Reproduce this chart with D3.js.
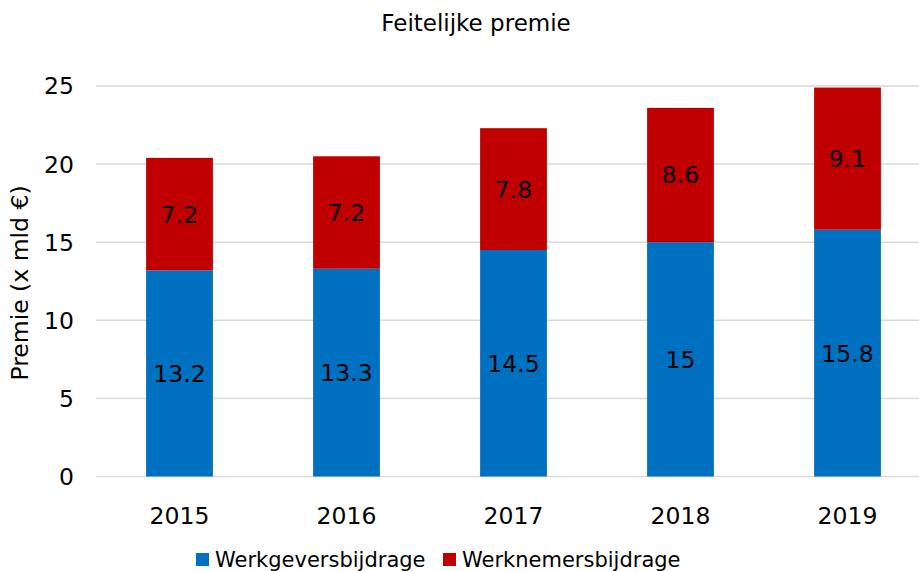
<!DOCTYPE html>
<html><head><meta charset="utf-8">
<script src="https://cdn.jsdelivr.net/npm/d3@7"></script>
<style>body{margin:0;background:#fff}svg{display:block;font-family:"DejaVu Sans",Verdana,sans-serif}</style>
</head><body><svg id="c" width="919" height="571"></svg>
<script>
const years = ["2015","2016","2017","2018","2019"];
const werkgever = [13.2,13.3,14.5,15,15.8];
const werknemer = [7.2,7.2,7.8,8.6,9.1];
const yTicks = [0,5,10,15,20,25];
const seriesNames = ["Werkgeversbijdrage","Werknemersbijdrage"];
const colors = ["#0070C0","#C00000"];

const svg = d3.select("#c");
const x = d3.scaleBand().domain(years).range([96,931]).paddingInner(0.6).paddingOuter(0.3);
const y = d3.scaleLinear().domain([0,25]).range([476.5,86]);

svg.append("g").selectAll("line").data(yTicks).join("line")
  .attr("x1",96).attr("x2",919).attr("y1",d=>y(d)).attr("y2",d=>y(d))
  .attr("stroke","#d9d9d9").attr("stroke-width",1.5);

svg.append("g").selectAll("text").data(yTicks).join("text")
  .attr("x",74).attr("y",d=>y(d)).attr("dy","0.36em").attr("text-anchor","end")
  .attr("font-size",23.5).attr("fill","#000").text(d=>d);

svg.append("g").selectAll("text").data(years).join("text")
  .attr("x",d=>x(d)+x.bandwidth()/2).attr("y",524).attr("text-anchor","middle")
  .attr("font-size",23.5).text(d=>d);

const data = years.map((yr,i)=>({yr, a:werkgever[i], b:werknemer[i]}));
const stack = d3.stack().keys(["a","b"])(data);
const g = svg.append("g");
stack.forEach((s,si)=>{
  g.selectAll(null).data(s).join("rect")
    .attr("x",d=>x(d.data.yr)).attr("width",x.bandwidth())
    .attr("y",d=>y(d[1])).attr("height",d=>y(d[0])-y(d[1]))
    .attr("fill",colors[si]);
  g.selectAll(null).data(s).join("text")
    .attr("x",d=>x(d.data.yr)+x.bandwidth()/2)
    .attr("y",d=>(y(d[0])+y(d[1]))/2).attr("dy","0.36em")
    .attr("text-anchor","middle").attr("font-size",23.5)
    .text(d=>si===0?d.data.a:d.data.b);
});

svg.append("text").attr("x",476).attr("y",31).attr("text-anchor","middle")
  .attr("font-size",23).text("Feitelijke premie");

svg.append("text").attr("transform","translate(28,283) rotate(-90)")
  .attr("text-anchor","middle").attr("font-size",23.5).text("Premie (x mld €)");

const leg = svg.append("g");
const lx = [196,443];
seriesNames.forEach((n,i)=>{
  leg.append("rect").attr("x",lx[i]).attr("y",553).attr("width",13).attr("height",13).attr("fill",colors[i]);
  leg.append("text").attr("x",lx[i]+19).attr("y",567).attr("font-size",21).text(n);
});
</script></body></html>
